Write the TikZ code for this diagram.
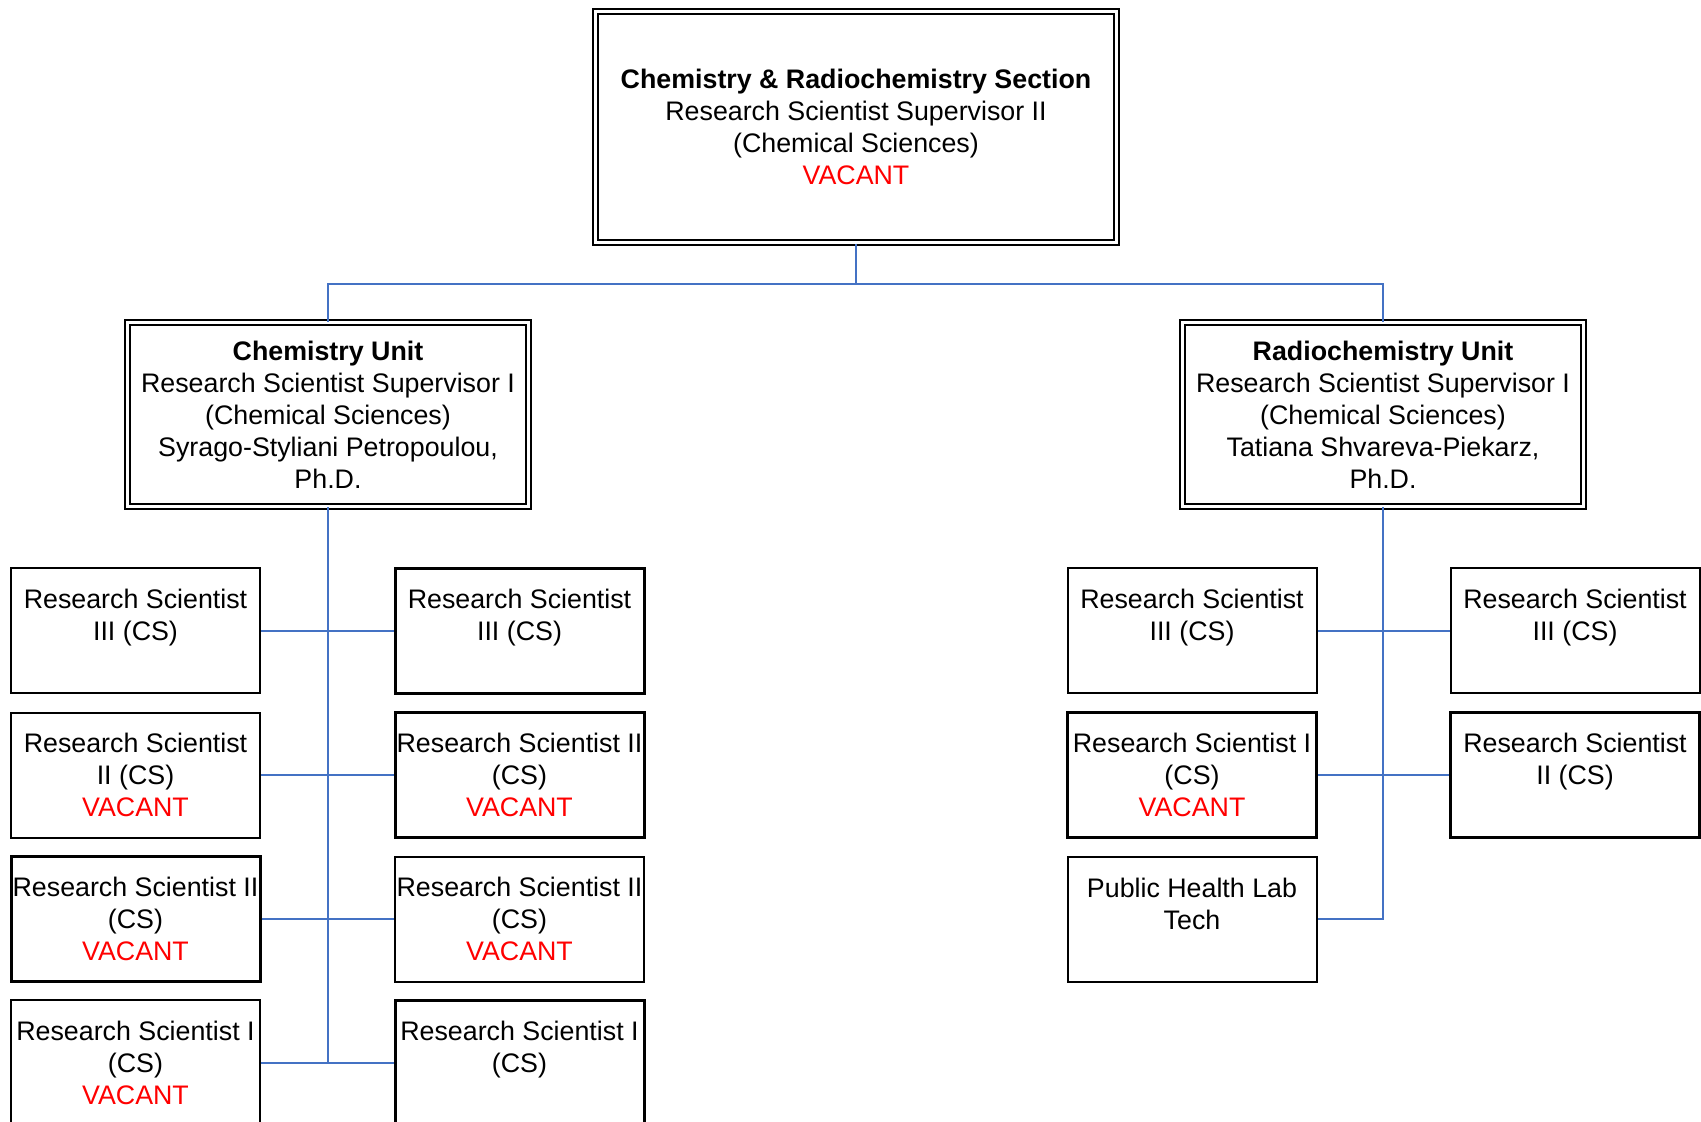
\documentclass[tikz,border=0pt]{standalone}
\usepackage{fontspec}
\setmainfont{Liberation Sans}
\definecolor{linkblue}{HTML}{4472C4}
\definecolor{vacred}{HTML}{FF0000}
\newcommand{\vacant}{\textcolor{vacred}{VACANT}}
\tikzset{
  postbox/.style={draw, line width=1pt, inner sep=0pt, minimum width=124.5pt, minimum height=62.5pt, align=center, font=\fontsize{13.4}{16}\selectfont},
  postboxb/.style={postbox, line width=1.5pt},
  unitbox/.style={draw, double, line width=0.9pt, double distance=1.6pt, inner sep=0pt, align=center, font=\fontsize{13.4}{16}\selectfont},
  link/.style={linkblue, line width=1pt}
}
\begin{document}
\begin{tikzpicture}[x=0.5pt,y=-0.5pt]
\useasboundingbox (0,0) rectangle (1701,1122);
\node[unitbox, minimum width=260.6pt, minimum height=115.8pt] (sect) at (856,127) {\textbf{Chemistry \& Radiochemistry Section}\\Research Scientist Supervisor II\\(Chemical Sciences)\\\vacant};
\node[unitbox, minimum width=200.6pt, minimum height=92pt] (chemunit) at (328,414.5) {\textbf{Chemistry Unit}\\Research Scientist Supervisor I\\(Chemical Sciences)\\Syrago-Styliani Petropoulou,\\Ph.D.};
\node[unitbox, minimum width=200.6pt, minimum height=92pt] (radunit) at (1383,414.5) {\textbf{Radiochemistry Unit}\\Research Scientist Supervisor I\\(Chemical Sciences)\\Tatiana Shvareva-Piekarz,\\Ph.D.};
\node[postbox] (l1) at (135.5,630.8) {Research Scientist\\III (CS)\\~};
\node[postbox] (l2) at (135.5,775.1) {Research Scientist\\II (CS)\\\vacant};
\node[postboxb] (l3) at (135.5,919.4) {Research Scientist II\\(CS)\\\vacant};
\node[postbox] (l4) at (135.5,1062.6) {Research Scientist I\\(CS)\\\vacant};
\node[postboxb] (r1) at (519.5,630.8) {Research Scientist\\III (CS)\\~};
\node[postboxb] (r2) at (519.5,775.1) {Research Scientist II\\(CS)\\\vacant};
\node[postbox] (r3) at (519.5,919.4) {Research Scientist II\\(CS)\\\vacant};
\node[postboxb] (r4) at (519.5,1062.6) {Research Scientist I\\(CS)\\~};
\node[postbox] (a1) at (1192,630.8) {Research Scientist\\III (CS)\\~};
\node[postboxb] (a2) at (1192,775.1) {Research Scientist I\\(CS)\\\vacant};
\node[postbox] (a3) at (1192,919.4) {Public Health Lab\\Tech\\~};
\node[postbox] (b1) at (1575,630.8) {Research Scientist\\III (CS)\\~};
\node[postboxb] (b2) at (1575,775.1) {Research Scientist\\II (CS)\\~};
\coordinate (bus) at (856,284);
\draw[link] (sect.south) -- (bus);
\draw[link] (chemunit.north) |- (bus) -| (radunit.north);
\draw[link] (chemunit.south) -- (chemunit.south |- l4.east);
\foreach \i in {1,...,4} \draw[link] (l\i.east) -- (r\i.west);
\draw[link] (radunit.south) -- (radunit.south |- a3.east) -- (a3.east);
\foreach \i in {1,2} \draw[link] (a\i.east) -- (b\i.west);
\end{tikzpicture}
\end{document}
